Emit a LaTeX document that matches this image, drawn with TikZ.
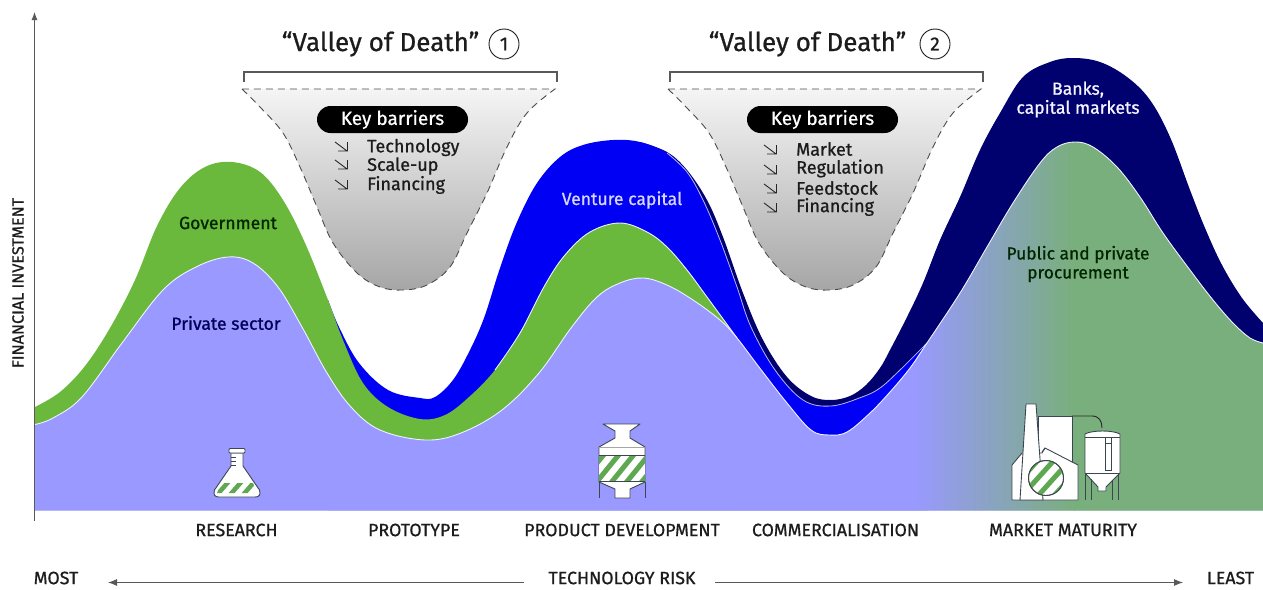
\documentclass[tikz,border=0pt]{standalone}
\usepackage{fontspec}
\setmainfont{Fira Sans}[FakeBold=0.8]
\usetikzlibrary{arrows.meta,shadings}
\definecolor{lav}{HTML}{9999FF}
\definecolor{grnA}{HTML}{6AB83C}
\definecolor{grnB}{HTML}{79AF7C}
\definecolor{blu}{HTML}{0000F4}
\definecolor{nav}{HTML}{00006E}
\definecolor{ink}{HTML}{1C1C1C}
\definecolor{icoline}{HTML}{3C4650}
\definecolor{stripe}{HTML}{5DA850}
\newcommand\lavcurve{plot[smooth,tension=.6] coordinates {(35,424.5)(53,418)(82,397)(122,343)(163,290)(196,267)(228,257)(253,263)(278,287)(302,327)(327,373)(351,407)(380,430)(425,440)(461,433)(502,410)(539,373)(571,328)(597,297)(620,283)(643,278)(667,285)(693,300)(720,320)(737,338)(759,367)(787,403)(811,430)(829,435)(847,432)(870,413)(890,392)(910,368)(927,343)(960,293)(987,247)(1013,203)(1040,163)(1057,147)(1075,142)(1093,147)(1117,167)(1140,197)(1163,233)(1190,270)(1213,300)(1233,323)(1250,338)(1263,343)}}
\newcommand\grncurve{plot[smooth,tension=.6] coordinates {(35,407)(60,392)(85,366)(110,328)(135,280)(157,226)(180,188)(205,167)(232,162)(260,172)(283,200)(305,243)(328,300)(343,340)(363,383)(388,407)(420,419)(445,415)(469,397)(495,370)(520,333)(545,285)(565,255)(590,232)(620,223)(647,232)(667,247)(687,270)(707,297)(737,338)}}
\newcommand\blucurve{plot[smooth,tension=.6] coordinates {(328,300)(339,327)(359,363)(388,390)(420,398)(435,397)(453,380)(469,352)(484,318)(500,268)(517,222)(537,183)(560,157)(583,145)(613,140)(640,142)(667,153)(687,172)(703,200)(720,240)(737,287)(751,327)(775,370)(803,400)(831,406)(862,397)(880,388)(900,370)(927,343)}}
\newcommand\navcurve{plot[smooth,tension=.6] coordinates {(640,142)(667,152)(687,170)(707,200)(723,237)(743,293)(763,340)(787,377)(811,396)(831,400)(850,396)(866,385)(880,368)(890,350)(907,317)(923,283)(940,240)(960,197)(980,150)(1000,113)(1023,77)(1050,62)(1073,58)(1100,62)(1127,77)(1150,100)(1170,137)(1190,190)(1205,228)(1222,265)(1242,298)(1263,323)}}
\newcommand\funnelA{plot[smooth,tension=.6] coordinates {(242,89)(260,107)(283,133)(300,167)(317,207)(333,243)(357,273)(380,287)(403,290)(427,285)(450,267)(467,233)(487,193)(507,147)(527,113)(555,89)}}
\newcommand\funnelB{plot[smooth,tension=.6] coordinates {(668,89)(686,107)(709,133)(726,167)(743,207)(759,243)(783,273)(806,287)(829,290)(853,285)(876,267)(893,233)(913,193)(933,147)(953,113)(981,89)}}
\tikzset{
  x=1pt,y=-1pt,
  edgeline/.style={draw=white!85!lav,line width=.9pt},
  funnel/.style={top color=black!4,bottom color=black!35,draw=black!70,dash pattern=on 7pt off 5pt,line width=.9pt},
  bracket/.style={draw=black!65,line width=1.2pt},
  pill/.style={fill=black,rounded corners=13.5pt,minimum width=151pt,minimum height=27pt,inner sep=0pt,text=white,font=\fontsize{19}{21}\selectfont},
  titletext/.style={font=\fontsize{26}{30}\selectfont,text=ink,inner sep=0pt},
  num/.style={draw=ink,circle,line width=.9pt,minimum size=30pt,inner sep=0pt,font=\fontsize{19}{20}\selectfont,text=ink},
  listitem/.style={anchor=west,inner sep=0pt,font=\fontsize{18}{20}\selectfont,text=ink},
  stage/.style={inner sep=0pt,font=\fontsize{17.8}{20}\selectfont,text=ink},
  area/.style={inner sep=0pt,font=\fontsize{17.6}{19}\selectfont,align=center},
  axisline/.style={draw=black!65,line width=.9pt},
  icon/.style={draw=icoline,line width=.9pt,fill=white,line join=round},
  hatch/.style={draw=stripe,line width=5pt},
}
\newcommand\barrierarrow[2]{\draw[black!85,line width=.9pt] (#1,#2-5) -- (#1+12,#2+4) (#1+3,#2+4) -- (#1+12.5,#2+4) -- (#1+12.5,#2-5);}
\begin{document}
\begin{tikzpicture}
\useasboundingbox (0,0) rectangle (1263,589);
% layers
\fill[nav] \navcurve -- (1263,510) -- (640,510) -- cycle;
\fill[blu] \blucurve -- (927,510) -- (328,510) -- cycle;
\draw[draw=lav!70!white,line width=.8pt] plot[smooth,tension=.6] coordinates {(667,153)(687,172)(703,200)(720,240)(737,287)(751,327)(775,370)(803,400)(831,406)(862,397)(880,388)(900,370)(927,343)};
\fill[grnA] \grncurve -- (737,510) -- (35,510) -- cycle;
\draw[edgeline] plot[smooth,tension=.6] coordinates {(495,370)(520,333)(545,285)(565,255)(590,232)(620,223)(647,232)(667,247)(687,270)(707,297)(737,338)};
\begin{scope}
  \clip \lavcurve -- (1263,510.5) -- (35,510.5) -- cycle;
  \fill[lav] (30,100) rectangle (916,512);
  \shade[left color=lav,right color=grnB] (915,100) rectangle (1075,512);
  \fill[grnB] (1074,100) rectangle (1264,512);
\end{scope}
\draw[edgeline] \lavcurve;
% axis
\coordinate (axisBottom) at (34.5,521);
\coordinate (axisTop) at (34.5,12);
\draw[axisline,-{Latex[length=8pt,width=6pt]}] (axisBottom) -- (axisTop);
\node[rotate=90,stage,font=\fontsize{16.2}{18}\selectfont] (finv) at (18,283) {FINANCIAL INVESTMENT};
% funnels
\path[funnel] \funnelA -- cycle;
\path[funnel] \funnelB -- cycle;
\draw[bracket] (244,82) -- (244,72) -- (557,72) -- (557,82);
\draw[bracket] (670,82) -- (670,72) -- (983,72) -- (983,82);
% titles
\node[titletext] (t1) at (380.5,44) {“Valley of Death”};
\node[num] (n1) at (504,44) {1};
\node[titletext] (t2) at (807.5,44) {“Valley of Death”};
\node[num] (n2) at (935,44) {2};
\node[pill] (k1) at (392.5,119.5) {Key barriers};
\node[pill] (k2) at (822.5,119.5) {Key barriers};
\node[listitem] (a1) at (367,147.5) {Technology};
\node[listitem] (a2) at (367,166) {Scale-up};
\node[listitem] (a3) at (367,185) {Financing};
\node[listitem] (b1) at (796,149) {Market};
\node[listitem] (b2) at (796,168.5) {Regulation};
\node[listitem] (b3) at (796,188) {Feedstock};
\node[listitem] (b4) at (796,207) {Financing};
\barrierarrow{335}{147}\barrierarrow{335}{165}\barrierarrow{335}{185}
\barrierarrow{764}{150}\barrierarrow{764}{170}\barrierarrow{764}{189}\barrierarrow{764}{208}
% area labels
\node[area,text=black!75!green!60!black] (gov) at (228,223) {Government};
\node[area,text=nav!80!black] (priv) at (226,323) {Private sector};
\node[area,text=lav!40!white] (vc) at (622,200) {Venture capital};
\node[area,text=white!90!lav,font=\fontsize{17.6}{19}\selectfont] (banks) at (1078,99.5) {Banks,\\capital markets};
\node[area,text=black!85!green,font=\fontsize{17.4}{19}\selectfont] (proc) at (1078,264) {Public and private\\procurement};
% stages
\node[stage] (s1) at (236.5,530) {RESEARCH};
\node[stage] (s2) at (414,530) {PROTOTYPE};
\node[stage] (s3) at (622,530) {PRODUCT DEVELOPMENT};
\node[stage] (s4) at (835.5,530) {COMMERCIALISATION};
\node[stage] (s5) at (1063,530) {MARKET MATURITY};
\node[stage] (most) at (56,578) {MOST};
\node[stage] (risk) at (622,578) {TECHNOLOGY RISK};
\node[stage] (least) at (1230.5,578) {LEAST};
\coordinate (riskL) at (524,582.5);
\coordinate (riskLend) at (108,582.5);
\coordinate (riskR) at (715,582.5);
\coordinate (riskRend) at (1183,582.5);
\draw[axisline,-{Latex[length=9pt,width=7pt]}] (riskL) -- (riskLend);
\draw[axisline,-{Latex[length=9pt,width=7pt]}] (riskR) -- (riskRend);
% flask
\path[icon] (231,453) -- (231,466) -- (214.5,490) .. controls (213,495) and (215,497) .. (219,497) -- (255,497) .. controls (259,497) and (261,495) .. (259.5,490) -- (243,466) -- (243,453) -- cycle;
\begin{scope}
  \clip (221,483) -- (253,483) -- (257,493) -- (217,493) -- cycle;
  \foreach \i in {0,13,26}{\draw[stripe,line width=4.5pt] (\i+216,496) -- (\i+230,480);}
\end{scope}
\path[icon,rounded corners=1pt] (229,448.5) rectangle (245,453);
\draw[icoline,line width=.7pt] (231,457) -- (236,457) (231,461) -- (236,461) (231,465) -- (236,465);
% reactor
\path[icon] (603,424) -- (640,424) -- (630,431) -- (630,438) -- (645,447) -- (645,482) -- (630,489) -- (630,498) -- (615,498) -- (615,489) -- (599,482) -- (599,447) -- (615,438) -- (615,431) -- cycle;
\fill[white] (599,455) rectangle (645,481.5);
\begin{scope}
  \clip (599,455) rectangle (645,481.5);
  \foreach \i in {-10,5,...,70}{\draw[hatch] (\i+590,484) -- (\i+616,452);}
\end{scope}
\draw[icoline,line width=.9pt] (599,455) -- (645,455) (599,481.5) -- (645,481.5) (599,482) -- (599,498) (645,482) -- (645,498);
\draw[black!35,line width=.8pt] (599,447.5) -- (645,447.5);
% factory
\path[icon] (1038,416) -- (1072,416) -- (1072,462) -- (1038,462) -- cycle;
\path[icon] (1012,500) -- (1012,465) -- (1022,453) -- (1042,453) -- (1045,448) -- (1078,465) -- (1078,500) -- cycle;
\path[icon] (1026,404) -- (1036,404) -- (1043,500) -- (1020,500) -- cycle;
\draw[icoline,line width=.9pt] (1042,452) -- (1045,448);
\path[fill=white,draw=icoline,line width=.9pt] (1046,478) circle (17.5);
\begin{scope}
  \clip (1046,478) circle (17.5);
  \foreach \i in {-24,-8,...,24}{\draw[hatch] (\i+1028,498) -- (\i+1064,458);}
\end{scope}
\draw[icoline,line width=.9pt] (1046,478) circle (17.5);
\draw[black!85,line width=.9pt] (1072,416) -- (1092,416) .. controls (1099,416) and (1102,421) .. (1102,428);
\path[icon] (1085,473) -- (1085,434) .. controls (1092,430) and (1113,430) .. (1120,434) -- (1120,473) -- (1106,487) -- (1106,491) -- (1098,491) -- (1098,487) -- cycle;
\draw[icoline,line width=.8pt] (1085,437) -- (1120,437) (1085,473) -- (1120,473) (1085,473) -- (1085,500) (1091,479) -- (1091,500) (1112,481) -- (1112,500) (1118,475) -- (1118,500);
\draw[icoline,line width=.8pt] (1105,437) rectangle (1111,470) (1105,443) -- (1111,443);
\end{tikzpicture}
\end{document}
